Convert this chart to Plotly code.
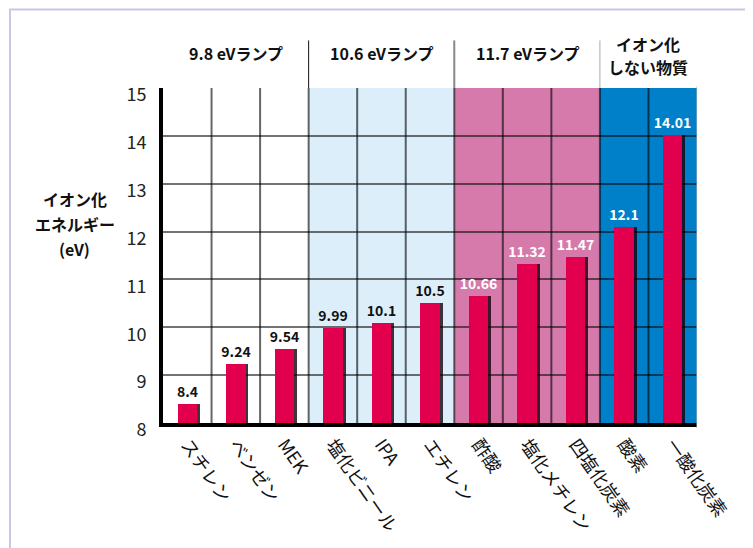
import plotly.graph_objects as go

# 物質ごとのイオン化エネルギー (eV)
substances = ["スチレン", "ベンゼン", "MEK", "塩化ビニール", "IPA", "エチレン",
              "酢酸", "塩化メチレン", "四塩化炭素", "酸素", "一酸化炭素"]
energies = [8.4, 9.24, 9.54, 9.99, 10.1, 10.5, 10.66, 11.32, 11.47, 12.1, 14.01]
label_colors = ["#111111"] * 6 + ["#ffffff"] * 5

# ランプ区分 (開始, 終了のインデックス)
group_names = [["9.8 eVランプ"], ["10.6 eVランプ"], ["11.7 eVランプ"], ["イオン化", "しない物質"]]
group_ranges = [(0, 2), (3, 5), (6, 8), (9, 10)]
group_fills = ["#ffffff", "#dceefa", "#d67aac", "#0080c8"]

y_title = ["イオン化", "エネルギー", "(eV)"]
y_ticks = [8, 9, 10, 11, 12, 13, 14, 15]

JP = "Noto Sans CJK JP"
NUM = "Liberation Sans Narrow, Noto Sans CJK JP"

x = list(range(len(substances)))

fig = go.Figure()
# 影
fig.add_trace(go.Bar(
    x=x, y=energies, width=0.4, offset=-0.14,
    marker=dict(color="rgba(20,0,10,0.8)", line=dict(width=0)),
    hoverinfo="skip", showlegend=False,
))
fig.add_trace(go.Bar(
    x=x, y=energies, width=0.4, offset=-0.2,
    marker=dict(color="#e2004e", line=dict(width=0)),
    text=[str(v) for v in energies],
    textposition="outside", constraintext="none",
    textfont=dict(family=NUM, size=14, color=label_colors, weight="bold"),
    cliponaxis=False,
    showlegend=False,
))

shapes = []
for (a, b), fill in zip(group_ranges, group_fills):
    shapes.append(dict(type="rect", xref="x", yref="y", x0=a - 0.5, x1=b + 0.5,
                       y0=8, y1=15, fillcolor=fill, line=dict(width=0), layer="below"))

# カテゴリ間の縦線
for i in range(len(substances) - 1):
    shapes.append(dict(type="line", xref="x", yref="y", x0=i + 0.5, x1=i + 0.5,
                       y0=8, y1=15, line=dict(color="rgba(0,0,0,0.6)", width=2),
                       layer="between"))

# 見出しの区切り線
for (a, b), col, w in zip(group_ranges[:-1], ["#111111", "#888888", "#aaaaaa"], [1, 2, 1]):
    shapes.append(dict(type="line", xref="x", yref="paper", x0=b + 0.5, x1=b + 0.5,
                       y0=1, y1=1.142, line=dict(color=col, width=w)))

# 右端の枠
shapes.append(dict(type="line", xref="x", yref="paper", x0=10.52, x1=10.52,
                   y0=-0.015, y1=1.005, line=dict(color="#b4b4b4", width=3)))
# 外枠
shapes.append(dict(type="rect", xref="paper", yref="paper", x0=-0.2865, x1=1.12,
                   y0=-0.45, y1=1.2344, line=dict(color="#c8c8e0", width=2)))

annotations = []
for (a, b), lines in zip(group_ranges, group_names):
    ys = [1.104] if len(lines) == 1 else [1.131, 1.062]
    for line, yy in zip(lines, ys):
        annotations.append(dict(
            x=(a + b) / 2, xref="x", y=yy, yref="paper",
            text=line, showarrow=False, xanchor="center", yanchor="middle",
            font=dict(family=JP, size=16, color="#111111", weight="bold"),
        ))
for line, yy in zip(y_title, [0.668, 0.593, 0.519]):
    annotations.append(dict(
        x=-0.165, xref="paper", y=yy, yref="paper",
        text=line, showarrow=False, xanchor="center", yanchor="middle",
        font=dict(family=JP, size=16, color="#111111", weight="bold"),
    ))

fig.update_layout(
    width=745, height=540,
    margin=dict(l=155, r=56, t=80, b=123),
    paper_bgcolor="white", plot_bgcolor="white",
    barmode="overlay", bargap=0,
    shapes=shapes, annotations=annotations,
    xaxis=dict(
        range=[-0.5, 10.5], tickvals=x, ticktext=substances, tickangle=55,
        showgrid=False, zeroline=False, ticks="",
        showline=True, linewidth=4, linecolor="black",
        tickfont=dict(family=JP, size=18, color="#111111"),
    ),
    yaxis=dict(
        range=[8, 15], tickvals=y_ticks, ticks="",
        showgrid=True, gridcolor="rgba(0,0,0,0.55)", gridwidth=2,
        zeroline=False, showline=True, linewidth=4, linecolor="black",
        tickfont=dict(family=NUM, size=18, color="#222222"),
        ticklabelshift=7, ticklabelstandoff=9,
    ),
)

fig.write_html("out.html")
